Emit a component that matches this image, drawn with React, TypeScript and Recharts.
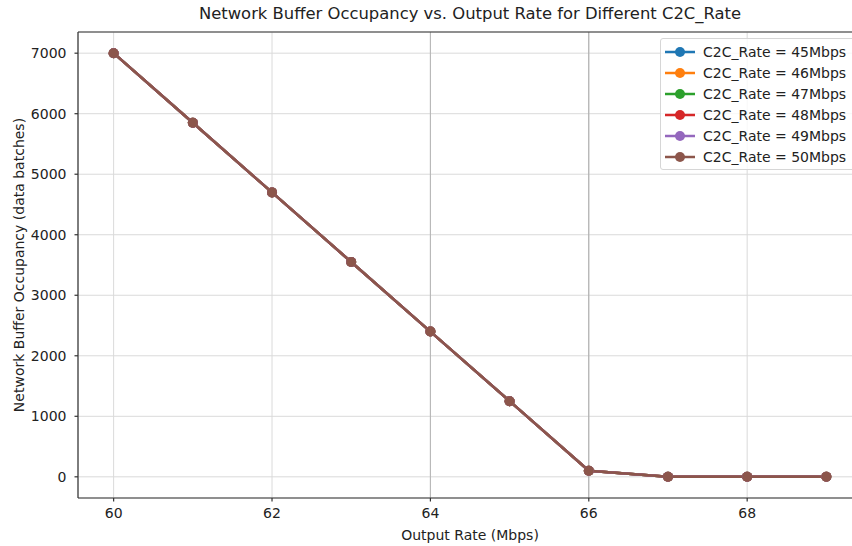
import React from "react";
import {
  LineChart,
  Line,
  XAxis,
  YAxis,
  CartesianGrid,
  ReferenceLine,
} from "recharts";

const FONT = "DejaVu Sans, Verdana, sans-serif";

// Output rate sweep (Mbps)
const outputRates = [60, 61, 62, 63, 64, 65, 66, 67, 68, 69];

// Buffer occupancy per C2C rate (data batches) — the curves coincide
const occ45 = [7000, 5850, 4700, 3550, 2400, 1250, 100, 0, 0, 0];
const occ46 = [7000, 5850, 4700, 3550, 2400, 1250, 100, 0, 0, 0];
const occ47 = [7000, 5850, 4700, 3550, 2400, 1250, 100, 0, 0, 0];
const occ48 = [7000, 5850, 4700, 3550, 2400, 1250, 100, 0, 0, 0];
const occ49 = [7000, 5850, 4700, 3550, 2400, 1250, 100, 0, 0, 0];
const occ50 = [7000, 5850, 4700, 3550, 2400, 1250, 100, 0, 0, 0];

const c2cRates = [45, 46, 47, 48, 49, 50];
const seriesValues = [occ45, occ46, occ47, occ48, occ49, occ50];
const colors = ["#1f77b4", "#ff7f0e", "#2ca02c", "#d62728", "#9467bd", "#8c564b"];

const xTicks = [60, 62, 64, 66, 68];
const yTicks = [0, 1000, 2000, 3000, 4000, 5000, 6000, 7000];

const X_DOMAIN: [number, number] = [59.55, 69.45];
const Y_DOMAIN: [number, number] = [-350, 7350];

const data = outputRates.map((rate, i) => {
  const row: Record<string, number> = { rate };
  c2cRates.forEach((c, s) => {
    row[`r${c}`] = seriesValues[s][i];
  });
  return row;
});

function LegendBox() {
  return (
    <div
      style={{
        position: "absolute",
        top: 38,
        left: 660,
        background: "rgba(255,255,255,0.8)",
        border: "1px solid #d6d6d6",
        borderRadius: 3,
        padding: "2px 10px 2px 4px",
        fontFamily: FONT,
        fontSize: 14,
        color: "#222",
        whiteSpace: "nowrap",
      }}
    >
      {c2cRates.map((c, i) => (
        <div key={c} style={{ display: "flex", alignItems: "center", height: 21 }}>
          <svg width={36} height={12} style={{ marginRight: 2 }}>
            <line x1={0} x2={30} y1={6} y2={6} stroke={colors[i]} strokeWidth={2.5} />
            <circle cx={15} cy={6} r={5} fill={colors[i]} />
          </svg>
          <span>{`C2C_Rate = ${c}Mbps`}</span>
        </div>
      ))}
    </div>
  );
}

function YTitle({ viewBox }: any) {
  const cy = viewBox.y + viewBox.height / 2;
  const x = 24;
  return (
    <text
      x={x}
      y={cy}
      transform={`rotate(-90 ${x} ${cy})`}
      textAnchor="middle"
      fontFamily={FONT}
      fontSize={14}
      fill="#222"
    >
      Network Buffer Occupancy (data batches)
    </text>
  );
}

export default function App() {
  return (
    <div
      style={{
        position: "fixed",
        left: 0,
        top: 0,
        width: 852,
        height: 546,
        overflow: "hidden",
        background: "#fff",
      }}
    >
      <div
        style={{
          position: "absolute",
          top: 4,
          left: 78,
          width: 784,
          textAlign: "center",
          fontFamily: FONT,
          fontSize: 16.4,
          color: "#222",
        }}
      >
        Network Buffer Occupancy vs. Output Rate for Different C2C_Rate
      </div>
      <LineChart
        width={880}
        height={546}
        data={data}
        margin={{ top: 32, right: 18, bottom: 18, left: 18 }}
      >
        <CartesianGrid stroke="#dadada" strokeWidth={1} />
        <ReferenceLine x={64} stroke="#b4b4b4" strokeWidth={1} />
        <ReferenceLine x={66} stroke="#a8a8a8" strokeWidth={1} />
        <ReferenceLine y={Y_DOMAIN[1]} stroke="#333" strokeWidth={1.2} />
        <XAxis
          dataKey="rate"
          type="number"
          domain={X_DOMAIN}
          ticks={xTicks}
          allowDataOverflow
          height={30}
          tickSize={3.5}
          tickMargin={7}
          stroke="#333"
          strokeWidth={1.2}
          tick={{ fill: "#222", fontFamily: FONT, fontSize: 14 }}
          label={{
            value: "Output Rate (Mbps)",
            position: "insideBottom",
            offset: -12,
            fill: "#222",
            fontFamily: FONT,
            fontSize: 14,
          }}
        />
        <YAxis
          type="number"
          domain={Y_DOMAIN}
          ticks={yTicks}
          allowDataOverflow
          width={60}
          tickSize={3.5}
          tickMargin={8}
          stroke="#333"
          strokeWidth={1.2}
          tick={{ fill: "#222", fontFamily: FONT, fontSize: 14 }}
          label={<YTitle />}
        />
        {c2cRates.map((c, i) => (
          <Line
            key={c}
            dataKey={`r${c}`}
            stroke={colors[i]}
            strokeWidth={2.5}
            dot={{ r: 5, fill: colors[i], stroke: colors[i], strokeWidth: 0 }}
            activeDot={false}
            isAnimationActive={false}
          />
        ))}
      </LineChart>
      <LegendBox />
    </div>
  );
}
